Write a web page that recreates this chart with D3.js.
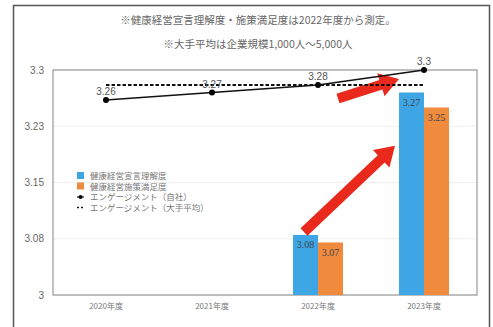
<!DOCTYPE html>
<html>
<head>
<meta charset="utf-8">
<script src="https://cdn.jsdelivr.net/npm/d3@7"></script>
<style>
  body { margin: 0; background: #fff; }
  text { font-family: "Noto Sans CJK JP", "Noto Sans", sans-serif; }
</style>
</head>
<body>
<script>
// data
var years = ["2020年度", "2021年度", "2022年度", "2023年度"];
var understanding = [null, null, 3.08, 3.27];   // 健康経営宣言理解度
var satisfaction = [null, null, 3.07, 3.25];    // 健康経営施策満足度
var engagementOwn = [3.26, 3.27, 3.28, 3.3];    // エンゲージメント（自社）
var engagementAvg = [3.28, 3.28, 3.28, 3.28];   // エンゲージメント（大手平均）
var yTicks = [3, 3.075, 3.15, 3.225, 3.3];
var yTickLabels = ["3", "3.08", "3.15", "3.23", "3.3"];
var notes = ["※健康経営宣言理解度・施策満足度は2022年度から測定。", "※大手平均は企業規模1,000人～5,000人"];
var legendNames = ["健康経営宣言理解度", "健康経営施策満足度", "エンゲージメント（自社）", "エンゲージメント（大手平均）"];

var W = 493, H = 327;
var margin = {top: 70, right: 15, bottom: 32, left: 53};

var blue = "#3fa6e6", orange = "#f08b3d", red = "#e8291c";

var svg = d3.select("body").append("svg")
    .attr("width", W)
    .attr("height", H);

// outer frame
svg.append("rect")
    .attr("x", 13.5).attr("y", 5.5)
    .attr("width", 476).attr("height", 340)
    .attr("fill", "none")
    .attr("stroke", "#555")
    .attr("stroke-width", 1.5);

var x = d3.scaleBand().domain(years).range([margin.left, W - margin.right - 1]);
var y = d3.scaleLinear().domain([3, 3.3]).range([H - margin.bottom, margin.top]);
var x1 = d3.scaleBand().domain(["u", "s"])
    .range([x.bandwidth() / 2 - 25, x.bandwidth() / 2 + 25]);

// notes on top
svg.selectAll(".note")
    .data(notes).enter()
    .append("text")
    .attr("x", 258)
    .attr("y", function(d, i) { return 24 + i * 24; })
    .attr("text-anchor", "middle")
    .style("font-size", "10.5px")
    .attr("fill", "#666")
    .text(function(d) { return d; });

// grid lines
svg.selectAll(".grid")
    .data(yTicks).enter()
    .append("line")
    .attr("x1", margin.left).attr("x2", W - margin.right - 1)
    .attr("y1", function(d) { return y(d); })
    .attr("y2", function(d) { return y(d); })
    .attr("stroke", "#eeeeee");

// plot frame
svg.append("rect")
    .attr("x", margin.left).attr("y", y(3.3))
    .attr("width", x.range()[1] - margin.left)
    .attr("height", y(3) - y(3.3))
    .attr("fill", "none")
    .attr("stroke", "#9a9a9a")
    .attr("stroke-width", 1.2);

// y axis labels
var yAxis = d3.axisLeft(y).tickValues(yTicks)
    .tickFormat(function(d, i) { return yTickLabels[i]; })
    .tickSize(0).tickPadding(9);
var gy = svg.append("g")
    .attr("transform", "translate(" + margin.left + ",0)")
    .call(yAxis);
gy.select(".domain").remove();
gy.selectAll("text").style("font-size", "10px").attr("fill", "#666")
    .style("font-family", "Liberation Sans, Arial, sans-serif");

// x axis labels
var xAxis = d3.axisBottom(x).tickSize(0).tickPadding(8);
var gx = svg.append("g")
    .attr("transform", "translate(0," + y(3) + ")")
    .call(xAxis);
gx.select(".domain").remove();
gx.selectAll("text").style("font-size", "8px").attr("fill", "#777");

// bars
var barData = [];
years.forEach(function(yr, i) {
  if (understanding[i] != null) barData.push({year: yr, key: "u", value: understanding[i]});
  if (satisfaction[i] != null) barData.push({year: yr, key: "s", value: satisfaction[i]});
});

svg.selectAll(".bar")
    .data(barData).enter()
    .append("rect")
    .attr("x", function(d) { return x(d.year) + x1(d.key); })
    .attr("y", function(d) { return y(d.value); })
    .attr("width", x1.bandwidth())
    .attr("height", function(d) { return y(3) - y(d.value); })
    .attr("fill", function(d) { return d.key == "u" ? blue : orange; });

svg.selectAll(".barlabel")
    .data(barData).enter()
    .append("text")
    .attr("x", function(d) { return x(d.year) + x1(d.key) + x1.bandwidth() / 2; })
    .attr("y", function(d) { return y(d.value) + 13; })
    .attr("text-anchor", "middle")
    .style("font-size", "10px")
    .style("font-family", "Liberation Serif, serif")
    .attr("fill", "#3a4350")
    .text(function(d) { return d.value; });

// red arrows (annotation)
function arrowPath(x0, y0, x1_, y1_) {
  var dx = x1_ - x0, dy = y1_ - y0;
  var len = Math.sqrt(dx * dx + dy * dy);
  var ang = Math.atan2(dy, dx) * 180 / Math.PI;
  var hl = 19, sw = 5, hw = 12;
  var pts = [[0, -sw], [len - hl, -sw], [len - hl, -hw], [len, 0], [len - hl, hw], [len - hl, sw], [0, sw]];
  return {d: "M" + pts.map(function(p) { return p.join(","); }).join("L") + "Z",
          t: "translate(" + x0 + "," + y0 + ") rotate(" + ang + ")"};
}
var arrows = [
  {from: ["2022年度", -14, 3.084], to: ["2023年度", -29, 3.199]},
  {from: ["2022年度", 20, 3.262], to: ["2023年度", -25, 3.288]}
];
arrows.forEach(function(a) {
  var p = arrowPath(x(a.from[0]) + x.bandwidth() / 2 + a.from[1], y(a.from[2]),
                    x(a.to[0]) + x.bandwidth() / 2 + a.to[1], y(a.to[2]));
  svg.append("path").attr("d", p.d).attr("transform", p.t).attr("fill", red);
});

// lines
var cx = function(d, i) { return x(years[i]) + x.bandwidth() / 2; };
var line = d3.line()
    .x(function(d, i) { return cx(d, i); })
    .y(function(d) { return y(d); });

svg.append("path")
    .datum(engagementAvg)
    .attr("d", line)
    .attr("fill", "none")
    .attr("stroke", "#111")
    .attr("stroke-width", 1.8)
    .attr("stroke-dasharray", "3.5,2");

svg.append("path")
    .datum(engagementOwn)
    .attr("d", line)
    .attr("fill", "none")
    .attr("stroke", "#111")
    .attr("stroke-width", 1.5);

svg.selectAll(".dot")
    .data(engagementOwn).enter()
    .append("circle")
    .attr("cx", cx)
    .attr("cy", function(d) { return y(d); })
    .attr("r", 3)
    .attr("fill", "#000");

svg.selectAll(".linelabel")
    .data(engagementOwn).enter()
    .append("text")
    .attr("x", cx)
    .attr("y", function(d) { return y(d) - 5; })
    .attr("text-anchor", "middle")
    .style("font-size", "10px")
    .style("font-family", "Liberation Sans, Arial, sans-serif")
    .attr("fill", "#555")
    .text(function(d) { return d; });

// legend
var legend = svg.append("g").attr("transform", "translate(77,176)");
legendNames.forEach(function(name, i) {
  var g = legend.append("g").attr("transform", "translate(0," + (i * 10.5) + ")");
  if (i < 2) {
    g.append("rect").attr("x", 0).attr("y", -4).attr("width", 7).attr("height", 7)
      .attr("fill", i == 0 ? blue : orange);
  } else if (i == 2) {
    g.append("line").attr("x1", 0).attr("x2", 7).attr("y1", 0).attr("y2", 0)
      .attr("stroke", "#111").attr("stroke-width", 1.2);
    g.append("circle").attr("cx", 3.5).attr("cy", 0).attr("r", 2).attr("fill", "#000");
  } else {
    g.append("line").attr("x1", 0).attr("x2", 7).attr("y1", 0).attr("y2", 0)
      .attr("stroke", "#111").attr("stroke-width", 1.5).attr("stroke-dasharray", "2,2");
  }
  g.append("text").attr("x", 13).attr("y", 3.2)
    .style("font-size", "8.5px")
    .attr("fill", "#777")
    .text(name);
});
</script>
</body>
</html>
